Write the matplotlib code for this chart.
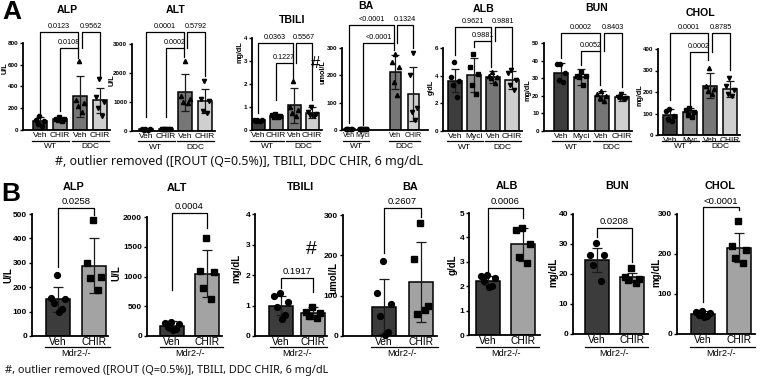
import matplotlib
matplotlib.use('Agg')
import matplotlib.pyplot as plt
from matplotlib import font_manager
import numpy as np

# ---------------- panel A data (WT / DDC) ----------------
a_titles = ['ALP', 'ALT', 'TBILI', 'BA', 'ALB', 'BUN', 'CHOL']
a_units = ['U/L', 'U/L', 'mg/dL', 'umol/L', 'g/dL', 'mg/dL', 'mg/dL']
a_ticks = [[0, 200, 400, 600, 800], [0, 1000, 2000, 3000], [0, 1, 2, 3, 4],
           [0, 100, 200, 300], [0, 2, 4, 6], [0, 10, 20, 30, 40, 50],
           [0, 100, 200, 300, 400]]
a_xlab = [['Veh', 'CHIR', 'Veh', 'CHIR']] * 3 + [['Veh', 'Myci', 'Veh', 'CHIR']] * 3 \
    + [['Veh', 'Myc', 'Veh', 'CHIR']]
a_groups = ['WT', 'DDC']
a_mean = [[80, 100, 310, 272], [60, 70, 1330, 1040], [0.42, 0.62, 1.07, 0.75],
          [3, 3, 212, 133], [3.65, 4.05, 3.9, 3.72], [33.2, 30.5, 20.0, 19.2],
          [92, 105, 230, 215]]
a_sd = [[35, 12, 190, 113], [15, 10, 630, 410], [0.03, 0.06, 0.75, 0.25],
        [1, 1, 63, 99], [0.85, 1.2, 0.42, 0.65], [5.2, 4.5, 3.0, 2.0],
        [30, 20, 60, 38]]
a_pts = [
    [[130, 95, 80, 55, 40], [115, 105, 100, 95, 85], [630, 280, 250, 220, 170], [470, 300, 260, 200, 130]],
    [[85, 70, 60, 50, 35], [80, 75, 70, 65, 60], [2430, 1200, 1100, 1000, 950], [1720, 1100, 1050, 700, 630]],
    [[0.45, 0.43, 0.42, 0.41, 0.39], [0.7, 0.65, 0.62, 0.58, 0.55], [2.15, 1.0, 0.85, 0.75, 0.6], [1.0, 0.8, 0.7, 0.65, 0.6]],
    [[4, 3, 3, 2, 2], [4, 3, 3, 3, 2], [278, 249, 230, 176, 127], [282, 200, 80, 65, 38]],
    [[5.0, 3.9, 3.6, 3.3, 2.45], [5.6, 4.6, 4.1, 3.3, 2.65], [4.3, 4.0, 3.9, 3.8, 3.5], [4.4, 4.2, 3.7, 3.3, 3.0]],
    [[38, 38, 33, 29, 28], [33.5, 31.5, 31, 30.5, 26], [23, 21, 20, 19, 17], [21, 19.5, 19, 18.5, 18]],
    [[120, 110, 90, 75, 65], [125, 118, 105, 95, 82], [310, 230, 215, 205, 190], [265, 230, 210, 190, 180]],
]
a_p = [['0.0123', '0.0108', '0.9562'], ['0.0001', '0.0002', '0.5792'],
       ['0.0363', '0.1227', '0.5567'], ['<0.0001', '<0.0001', '0.1324'],
       ['0.9621', '0.9881', '0.9881'], ['0.0002', '0.0052', '0.8403'],
       ['0.0001', '0.0002', '0.8785']]

# ---------------- panel B data (Mdr2-/-) ----------------
b_titles = a_titles
b_units = a_units
b_ticks = [[0, 100, 200, 300, 400, 500], [0, 500, 1000, 1500, 2000], [0, 1, 2, 3, 4],
           [0, 100, 200, 300], [0, 1, 2, 3, 4, 5], [0, 10, 20, 30, 40], [0, 100, 200, 300]]
b_xlab = ['Veh', 'CHIR']
b_group = 'Mdr2-/-'
b_mean = [[150, 288], [170, 1050], [1.0, 0.75], [73, 133], [2.22, 3.72], [24.7, 18.9], [50, 216]]
b_sd = [[50, 112], [80, 390], [0.3, 0.2], [69, 99], [0.18, 0.68], [4.0, 1.5], [8, 37]]
b_pts = [
    [[250, 155, 150, 135, 110, 100], [475, 300, 240, 238, 189]],
    [[235, 220, 200, 150, 120, 95], [1650, 1100, 1070, 800, 630]],
    [[1.4, 1.3, 1.1, 0.95, 0.7, 0.55], [0.95, 0.8, 0.75, 0.65, 0.6]],
    [[187, 107, 80, 50, 10, 3], [280, 190, 75, 55, 65]],
    [[2.45, 2.4, 2.35, 2.2, 2.0, 1.95], [4.4, 4.3, 3.75, 3.2, 2.95]],
    [[30.3, 26.3, 26.3, 23, 17.7], [22, 19, 18.5, 18, 17]],
    [[57, 56, 52, 48, 45, 42], [282, 220, 210, 190, 178]],
]
b_p = ['0.0258', '0.0004', '0.1917', '0.2607', '0.0006', '0.0208', '<0.0001']

note = '#, outlier removed ([ROUT (Q=0.5%)], TBILI, DDC CHIR, 6 mg/dL'

# ---------------- layout (pixels of a 765x383 canvas) ----------------
W, H = 765, 383
a_left = [23, 132, 252, 342, 443, 544, 658]
a_right = [110, 215, 322, 428, 522, 632, 740]
a_top = [43, 44, 38, 48, 48, 43, 49]
a_bot = [130, 131, 130, 130, 131, 131, 135]
a_first = [40, 146, 258, 349, 455, 561, 670]
a_step = [20, 19.7, 18, 14, 19, 20.3, 20]
a_xpos = [[0, 1, 2, 3]] * 3 + [[0, 1, 3.3, 4.6]] + [[0, 1, 2, 3]] * 3
a_bw = [14, 14, 13, 11, 14, 14, 14]
a_xfs = [6.0, 6.0, 6.0, 5.0, 6.0, 6.0, 6.0]
a_title_xy = [(67, 10), (176, 10), (292, 20), (366, 6), (484, 9), (597, 8), (700, 13)]
a_ylab_xy = [(5, 68), (112, 80), (240, 52), (323, 72), (431, 87), (528, 90), (640, 95)]
# bracket heights: upper line, lower line, leg ends (bar0, bar1, bar2 under lower, bar3)
a_brk = [(901, 754, 135, 171, 665, 494), (3410, 2864, 477, 477, 2560, 1880),
         (3.78, 2.91, 0.74, 1.30, 2.26, 1.30), (384, 318, 26, 20, 293, 300),
         (7.52, 6.51, 5.49, 6.07, 4.6, 4.6), (55.7, 45.5, 41.5, 37.5, 26, 25),
         (474, 386, 163, 140, 349, 302)]

b_left = [32, 147, 255, 343, 469, 573, 677]
b_right = [108, 222, 327, 437, 540, 648, 755]
b_top = [214, 217, 214, 215, 213, 214, 214]
b_bot = [336, 336, 336, 336, 335, 334, 334]
b_first = [58, 172, 281, 384, 488, 597, 703]
b_step = [36, 35, 32, 37, 35, 35, 36]
b_title_xy = [(74, 187), (177, 188), (300, 187), (410, 187), (507, 186), (617, 186), (720, 186)]
b_ylab_xy = [(8, 275), (116, 273), (236, 268), (333, 278), (453, 265), (553, 272), (656, 272)]
b_brk = [(525, 283, 496), (2067, 773, 1814), (1.90, 1.57, 1.44), (317, 206, 295),
         (5.2, 2.58, 4.8), (35.3, 32.3, 24), (317, 80, 310)]

a_colors = ['#3c3c3c', '#8e8e8e', '#767676', '#cfcfcf']
b_colors = ['#3c3c3c', '#a3a3a3']
a_markers = ['o', 's', '^', 'v']
b_markers = ['o', 's']
jit = [-0.05, -0.3, 0.3, -0.15, 0.15, 0.05]

names = {f.name for f in font_manager.fontManager.ttflist}
narrow = 'Liberation Sans Narrow' in names
FONT = 'Liberation Sans Narrow' if narrow else 'Liberation Sans'
k = 1.12 if narrow else 1.0
plt.rcParams['font.family'] = [FONT, 'DejaVu Sans']

fig = plt.figure(figsize=(W / 100, H / 100), dpi=100)


def make_axes(x0, x1, ytop, ybot, first, step):
    ax = fig.add_axes([x0 / W, 1 - ybot / H, (x1 - x0) / W, (ybot - ytop) / H])
    ax.set_xlim((x0 - first) / step, (x1 - first) / step)
    for s in ['top', 'right']:
        ax.spines[s].set_visible(False)
    for s in ['left', 'bottom']:
        ax.spines[s].set_linewidth(1.3)
    return ax


def yfrac(py, ytop, ybot):
    return (ybot - py) / (ybot - ytop)


def bracket(ax, x1, x2, y, e1, e2, txt, fs):
    ax.plot([x1, x1, x2, x2], [e1, y, y, e2], color='k', lw=0.9, clip_on=False)
    ax.annotate(txt, ((x1 + x2) / 2, y), xytext=(0, 1.2), textcoords='offset points',
                ha='center', va='bottom', fontsize=fs, annotation_clip=False)


def draw_panel(ax, pos, means, sds, pts, colors, markers, bw, msize, ticks, tfs):
    ax.bar(pos, means, width=bw, color=colors, edgecolor='k', linewidth=1.1, zorder=2)
    ax.errorbar(pos, means, yerr=sds, fmt='none', ecolor='#1a1a1a', elinewidth=0.9,
                capsize=msize * 0.9, capthick=0.9, zorder=3)
    for x, vals, m in zip(pos, pts, markers):
        xs = [x + jit[i] * bw for i in range(len(vals))]
        ax.plot(xs, vals, linestyle='none', marker=m, color='k', markersize=msize,
                clip_on=False, zorder=4)
    ax.set_ylim(ticks[0], ticks[-1])
    ax.set_yticks(ticks)
    ax.tick_params(axis='y', length=2.5, width=1.0, pad=1, labelsize=tfs)
    for lab in ax.get_yticklabels():
        lab.set_fontweight('bold')


def place_ylabel(ax, text, fs, lx, ly, x0, x1, ytop, ybot):
    ax.set_ylabel(text, fontsize=fs, fontweight='bold')
    ax.yaxis.label.set_verticalalignment('center')
    ax.yaxis.set_label_coords((lx - x0) / (x1 - x0), yfrac(ly, ytop, ybot))


# ---------------- row A ----------------
for i in range(7):
    ax = make_axes(a_left[i], a_right[i], a_top[i], a_bot[i], a_first[i], a_step[i])
    pos = a_xpos[i]
    bw = a_bw[i] / a_step[i]
    draw_panel(ax, pos, a_mean[i], a_sd[i], a_pts[i], a_colors, a_markers, bw, 3.0,
               a_ticks[i], 4.5 * k)
    ax.set_xticks(pos, a_xlab[i])
    ax.tick_params(axis='x', length=0, pad=1.2, labelsize=a_xfs[i] * k)
    tr = ax.get_xaxis_transform()
    yl = yfrac(141, a_top[i], a_bot[i])
    yg = yfrac(147, a_top[i], a_bot[i])
    for g in range(2):
        p0, p1 = pos[2 * g], pos[2 * g + 1]
        ax.plot([p0 - 0.42, p1 + 0.45], [yl, yl], color='k', lw=0.9, transform=tr, clip_on=False)
        ax.text((p0 + p1) / 2, yg, a_groups[g], transform=tr, ha='center', va='center',
                fontsize=6.0 * k)
    up, low, e0, e1, e2, e3 = a_brk[i]
    bracket(ax, pos[0], pos[2] - 0.08, up, e0, low, a_p[i][0], 5.2 * k)
    bracket(ax, pos[1], pos[2] - 0.08, low, e1, e2, a_p[i][1], 5.2 * k)
    bracket(ax, pos[2] + 0.1, pos[3], up, low, e3, a_p[i][2], 5.2 * k)
    tx, ty = a_title_xy[i]
    fig.text(tx / W, 1 - ty / H, a_titles[i], ha='center', va='center',
             fontsize=7.6 * k, fontweight='bold')
    lx, ly = a_ylab_xy[i]
    place_ylabel(ax, a_units[i], 5.2 * k, lx, ly, a_left[i], a_right[i], a_top[i], a_bot[i])
    if i == 2:
        ax.text(3.22, 2.9, '#', fontsize=12, ha='center', va='center', clip_on=False)

# ---------------- row B ----------------
for i in range(7):
    ax = make_axes(b_left[i], b_right[i], b_top[i], b_bot[i], b_first[i], b_step[i])
    pos = [0, 1]
    bw = 24 / b_step[i]
    draw_panel(ax, pos, b_mean[i], b_sd[i], b_pts[i], b_colors, b_markers, bw, 4.2,
               b_ticks[i], 6.0 * k)
    ax.set_xticks(pos, b_xlab)
    ax.tick_params(axis='x', length=0, pad=1.0, labelsize=7.4 * k)
    tr = ax.get_xaxis_transform()
    yl = yfrac(347, b_top[i], b_bot[i])
    yg = yfrac(353, b_top[i], b_bot[i])
    ax.plot([-0.35, 1.45], [yl, yl], color='k', lw=0.9, transform=tr, clip_on=False)
    ax.text(0.5, yg, b_group, transform=tr, ha='center', va='center', fontsize=6.6 * k)
    line, e0, e1 = b_brk[i]
    bracket(ax, 0, 1, line, e0, e1, b_p[i], 6.8 * k)
    tx, ty = b_title_xy[i]
    fig.text(tx / W, 1 - ty / H, b_titles[i], ha='center', va='center',
             fontsize=7.8 * k, fontweight='bold')
    lx, ly = b_ylab_xy[i]
    place_ylabel(ax, b_units[i], 7.0 * k, lx, ly, b_left[i], b_right[i], b_top[i], b_bot[i])
    if i == 2:
        ax.text(0.95, 2.85, '#', fontsize=14, ha='center', va='center', clip_on=False)

# panel letters
fig.text(2 / W, 1 - 12 / H, 'A', fontsize=19, fontweight='bold', ha='left', va='center',
         family='Liberation Sans')
fig.text(1 / W, 1 - 194 / H, 'B', fontsize=19, fontweight='bold', ha='left', va='center',
         family='Liberation Sans')

# footnotes, sized to the width they take in the figure
renderer = fig.canvas.get_renderer()
for x0, x1, yc in [(55, 425, 162), (5, 330, 371)]:
    t = fig.text(x0 / W, 1 - yc / H, note, fontsize=10, family=['Noto Sans', 'DejaVu Sans'],
                 ha='left', va='center', color='#111111')
    w = t.get_window_extent(renderer).width
    t.set_fontsize(10 * (x1 - x0) / w)

fig.savefig('out.png', dpi=100)
